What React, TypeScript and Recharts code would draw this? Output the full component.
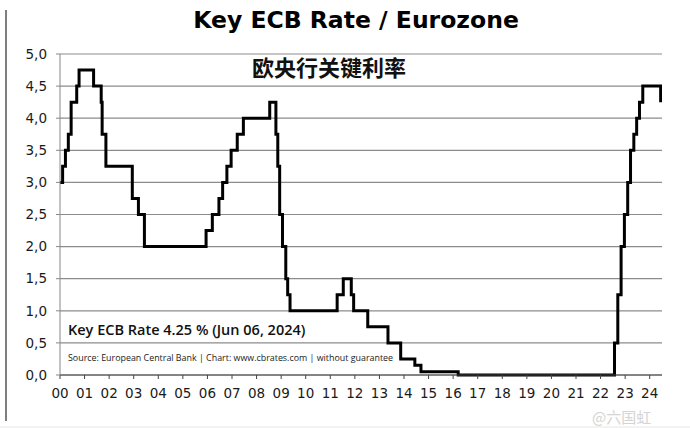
import { LineChart, Line, XAxis, YAxis, CartesianGrid } from 'recharts';

// ECB main refinancing rate, change dates and new rate (%)
const changeDates = [
  '2000-01-01', '2000-02-09', '2000-03-22', '2000-05-04', '2000-06-15', '2000-09-06', '2000-10-11',
  '2001-05-15', '2001-09-05', '2001-09-19', '2001-11-14', '2002-12-11', '2003-03-12', '2003-06-09',
  '2005-12-12', '2006-03-15', '2006-06-21', '2006-08-15', '2006-10-17', '2006-12-19', '2007-03-20',
  '2007-06-19', '2008-07-15', '2008-10-15', '2008-11-12', '2008-12-10', '2009-01-21', '2009-03-11',
  '2009-04-08', '2009-05-13', '2011-04-13', '2011-07-13', '2011-11-09', '2011-12-14', '2012-07-11',
  '2013-05-08', '2013-11-13', '2014-06-11', '2014-09-10', '2016-03-16', '2022-07-27', '2022-09-14',
  '2022-11-02', '2022-12-21', '2023-02-08', '2023-03-22', '2023-05-10', '2023-06-21', '2023-08-02',
  '2023-09-20', '2024-06-12',
];
const rates = [
  3.0, 3.25, 3.5, 3.75, 4.25, 4.5, 4.75,
  4.5, 4.25, 3.75, 3.25, 2.75, 2.5, 2.0,
  2.25, 2.5, 2.75, 3.0, 3.25, 3.5, 3.75,
  4.0, 4.25, 3.75, 3.25, 2.5, 2.0, 1.5,
  1.25, 1.0, 1.25, 1.5, 1.25, 1.0, 0.75,
  0.5, 0.25, 0.15, 0.05, 0.0, 0.5, 1.25,
  2.0, 2.5, 3.0, 3.5, 3.75, 4.0, 4.25,
  4.5, 4.25,
];
const yearTicks = [
  2000, 2001, 2002, 2003, 2004, 2005, 2006, 2007, 2008, 2009, 2010, 2011, 2012,
  2013, 2014, 2015, 2016, 2017, 2018, 2019, 2020, 2021, 2022, 2023, 2024,
];
const rateTicks = [0, 0.5, 1, 1.5, 2, 2.5, 3, 3.5, 4, 4.5, 5];

const toYear = (s: string) => {
  const [y, m, d] = s.split('-').map(Number);
  const start = Date.UTC(y, 0, 1);
  const end = Date.UTC(y + 1, 0, 1);
  return y + (Date.UTC(y, m - 1, d) - start) / (end - start);
};

const data = changeDates.map((d, i) => ({ t: toYear(d), rate: rates[i] }));

const font = 'DejaVu Sans, Verdana, sans-serif';

export default function App() {
  return (
    <div style={{ position: 'absolute', left: 0, top: 0, width: 690, height: 428, background: '#fff' }}>
      <LineChart width={690} height={428} data={data} margin={{ top: 54, right: 28, bottom: 0, left: 0 }}>
        <CartesianGrid vertical={false} stroke="#8c8c8c" strokeWidth={1.2} />
        <XAxis
          dataKey="t"
          type="number"
          domain={[2000, 2024.5]}
          ticks={yearTicks}
          tickFormatter={(v) => String(v % 100).padStart(2, '0')}
          interval={0}
          height={53}
          stroke="#444"
          tickSize={4}
          tickMargin={9}
          tick={{ fontSize: 13.5, fill: '#1a1a1a', fontFamily: font }}
          allowDataOverflow
        />
        <YAxis
          type="number"
          domain={[0, 5]}
          ticks={rateTicks}
          tickFormatter={(v) => v.toFixed(1).replace('.', ',')}
          width={60}
          stroke="#888"
          tickSize={4}
          tickMargin={9}
          tick={{ fontSize: 13.5, fill: '#1a1a1a', fontFamily: font }}
        />
        <Line
          type="stepAfter"
          dataKey="rate"
          stroke="#000"
          strokeWidth={3}
          dot={false}
          isAnimationActive={false}
        />
        <text x={356} y={28} textAnchor="middle" fontFamily={font} fontWeight="bold" fontSize={23.5} fill="#000">
          Key ECB Rate / Eurozone
        </text>
        <text x={329} y={76} textAnchor="middle" fontFamily="Noto Sans CJK SC" fontWeight="bold" fontSize={22} fill="#111">
          欧央行关键利率
        </text>
        <text x={68} y={335} fontFamily="Open Sans, sans-serif" fontWeight={600} fontSize={14.5} fill="#111">
          Key ECB Rate 4.25 % (Jun 06, 2024)
        </text>
        <text x={68} y={361} fontFamily="Liberation Sans Narrow, Open Sans, sans-serif" fontSize={8.9} fill="#222">
          Source: European Central Bank | Chart: www.cbrates.com | without guarantee
        </text>
        <line x1={6} y1={10} x2={6} y2={421} stroke="#555" strokeWidth={1.5} />
        <line x1={0} y1={427} x2={690} y2={427} stroke="#e6e6e6" strokeWidth={1} />
        <text x={592} y={423} fontFamily="Noto Sans CJK SC" fontSize={15} fill="#d4d4d4">
          @六国虹
        </text>
      </LineChart>
    </div>
  );
}
